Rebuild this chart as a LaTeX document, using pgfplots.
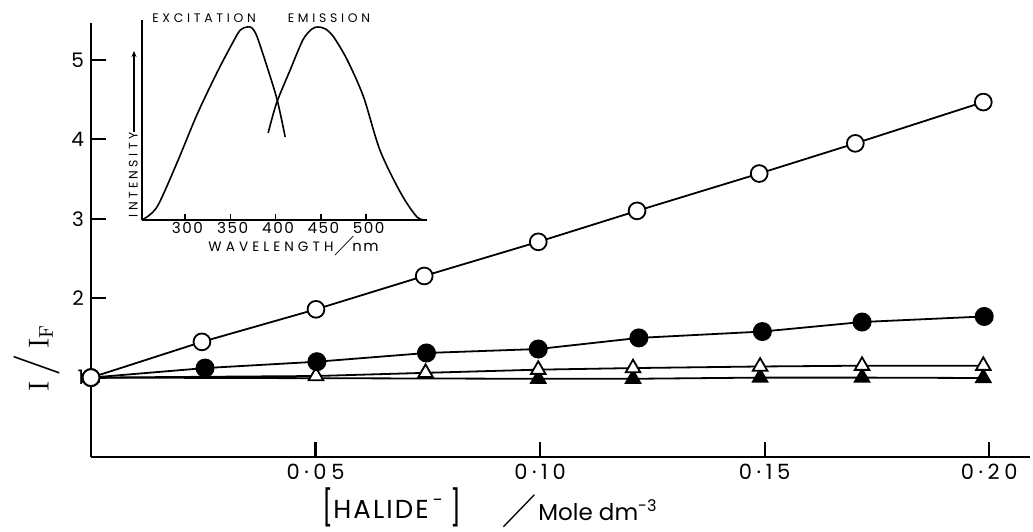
\documentclass[border=0pt]{standalone}
\usepackage{pgfplots}
\pgfplotsset{compat=1.18}
\usetikzlibrary{arrows.meta}
\usepackage{amssymb}
\usepackage[no-math]{fontspec}
\setmainfont{Poppins}
\newfontfamily\spaced[LetterSpace=30]{Poppins}
\newfontfamily\spacedi[LetterSpace=27]{Poppins}
\newfontfamily\spacedb[LetterSpace=22]{Poppins}
\newfontfamily\spacedc[LetterSpace=10]{Poppins}
\newfontfamily\spacedd[LetterSpace=8]{Poppins}
\begin{document}
\begin{tikzpicture}[x=1pt,y=1pt]
\path[use as bounding box] (0,0) rectangle (516.5,265.5);
% ---------------- main axis ----------------
\begin{axis}[
  at={(45.5pt,37pt)}, anchor=south west, scale only axis,
  width=469.5pt, height=217pt,
  xmin=0, xmax=0.2091, ymin=0, ymax=5.466,
  axis x line*=bottom, axis y line*=left,
  axis line style={line width=1.3pt},
  xtick={0.05,0.10,0.15,0.20}, xticklabels={0·05,0·10,0·15,0·20},
  ytick={1,2,3,4,5}, yticklabels={1,2,3,4,5},
  tick align=inside, major tick length=7.5pt,
  tick style={line width=1.1pt, black},
  yticklabel style={font=\fontsize{10}{12}\selectfont},
  xticklabel style={font=\spacedb\fontsize{10.5}{12}\selectfont},
  clip=false,
]
% filled triangles
\addplot[black, line width=0.9pt, mark=triangle*, mark size=4.2pt, mark options={fill=black}]
 coordinates {(0,1.0) (0.0996,0.985) (0.1207,0.985) (0.1490,1.0) (0.1717,1.0) (0.1987,0.995)};
% open triangles
\addplot[black, line width=0.9pt, mark=triangle*, mark size=4.2pt, mark options={fill=white}]
 coordinates {(0,1.0) (0.0501,1.02) (0.0745,1.06) (0.0996,1.10) (0.1207,1.12) (0.1490,1.14) (0.1717,1.15) (0.1987,1.15)};
% filled circles
\addplot[black, line width=0.9pt, mark=*, mark size=4.3pt, mark options={fill=black}]
 coordinates {(0,1.0) (0.0254,1.12) (0.0503,1.20) (0.0747,1.31) (0.0996,1.36) (0.1220,1.50) (0.1495,1.58) (0.1717,1.70) (0.1989,1.77)};
% open circles
\addplot[black, line width=0.9pt, mark=*, mark size=4.2pt, mark options={fill=white, line width=0.9pt}]
 coordinates {(0,1.0) (0.0247,1.45) (0.0501,1.86) (0.0742,2.28) (0.0996,2.71) (0.1216,3.10) (0.1488,3.57) (0.1702,3.95) (0.1987,4.47)};
\end{axis}
% ---------------- inset ----------------
\begin{axis}[
  at={(71pt,155.5pt)}, anchor=south west, scale only axis,
  width=142.5pt, height=100pt,
  xmin=252.5, xmax=567, ymin=0, ymax=200,
  axis x line*=bottom, axis y line*=left,
  axis line style={line width=1.1pt},
  xtick={300,350,400,450,500}, xticklabels={300,350,400,450,500},
  ytick=\empty,
  tick align=inside, major tick length=3pt,
  tick style={line width=0.8pt, black},
  xticklabel style={font=\spacedc\fontsize{7.6}{8}\selectfont, yshift=2.5pt, xshift=1.2pt},
  clip=false,
]
\addplot[black, line width=0.8pt, smooth, tension=0.5]
 coordinates {(252.5,0) (269,13) (291,57) (313,105) (335,147) (353,178) (361,190) (368.5,193) (374,192) (379.6,183) (390.6,153) (401.7,120) (410.5,83)};
\addplot[black, line width=0.8pt, smooth, tension=0.5]
 coordinates {(391.7,87) (401,117) (416,150) (430,180) (440,191) (447,193) (455,191) (464,183) (479,160) (497,123) (515,70) (538,27) (556,3) (567,0)};
\end{axis}
% ---------------- texts ----------------
\node[font=\spaced\fontsize{6.2}{7}\selectfont, inner sep=0pt] at (102,256.5) {EXCITATION};
\node[font=\spaced\fontsize{6.2}{7}\selectfont, inner sep=0pt] at (164.5,256.5) {EMISSION};
\node[font=\spacedi\fontsize{6.2}{7}\selectfont, inner sep=0pt, rotate=90] at (66.6,178) {INTENSITY};
\draw[line width=0.6pt, -{Stealth[length=3pt,width=2.5pt]}] (67,199.5) -- (67,240);
\node[anchor=base west, font=\spaced\fontsize{6.8}{7.5}\selectfont, inner sep=0pt] at (104,139.8) {WAVELENGTH};
\node[inner sep=0pt] at (172.3,142.5) {\scalebox{1.1}{$\diagup$}};
\node[anchor=base west, font=\spacedc\fontsize{7.4}{8}\selectfont, inner sep=0pt] at (176,139.8) {nm};
\node[inner sep=0pt, rotate=90, font=\fontsize{14.5}{16}\selectfont] at (18.5,86.5) {$\mathrm{I}\,\scalebox{1.6}{$/$}\,\mathrm{I}_{\mathrm{F}}$};
\node[anchor=base west, inner sep=0pt, font=\spacedd\fontsize{13}{15}\selectfont] at (161,6.5) {\raisebox{-1pt}{\scalebox{1}[1.35]{[}}HALIDE\,\raisebox{1.5pt}{\textsuperscript{-}}\hspace{3pt}\raisebox{-1pt}{\scalebox{1}[1.35]{]}}};
\node[inner sep=0pt] at (260,9.6) {\scalebox{1.85}{$\diagup$}};
\node[anchor=base west, inner sep=0pt, font=\fontsize{11.5}{14}\selectfont] at (269,5.5) {Mole dm\textsuperscript{-3}};
\end{tikzpicture}
\end{document}
